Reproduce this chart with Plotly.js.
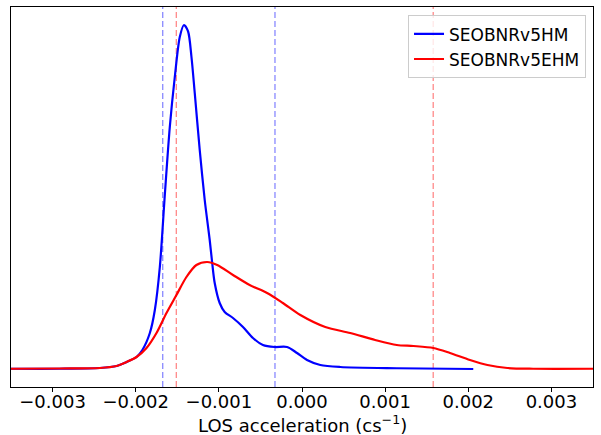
<!DOCTYPE html>
<html>
<head>
<meta charset="utf-8">
<script src="https://cdn.plot.ly/plotly-3.0.1.min.js"></script>
<style>html,body{margin:0;padding:0;background:#fff;}#chart{width:601px;height:435px;}</style>
</head>
<body>
<div id="chart"></div>
<script>
// LOS acceleration (c s^-1) and KDE density
const hmX = [-0.00351, -0.00292, -0.00243, -0.00223, -0.00211, -0.00199, -0.00192, -0.00183, -0.00177, -0.00171, -0.00165, -0.00159, -0.00153, -0.00147, -0.00142, -0.00137, -0.00133, -0.00129, -0.00123, -0.00117, -0.00111, -0.00108, -0.00105, -0.00099, -0.00093, -0.00083, -0.00071, -0.00059, -0.00047, -0.00033, -0.00018, -0.00006, 0.00006, 0.00022, 0.00046, 0.00114, 0.00206];
const hmY = [1, 1, 4, 12, 28, 48, 76, 144, 236, 408, 696, 968, 1168, 1328, 1376, 1350, 1250, 1104, 876, 676, 516, 424, 344, 264, 228, 204, 168, 124, 96, 88, 88, 64, 36, 16, 8, 3, 0];

const ehmX = [-0.00351, -0.00292, -0.00243, -0.00223, -0.00211, -0.00199, -0.00187, -0.00175, -0.00163, -0.00151, -0.00139, -0.00127, -0.00114, -0.00102, -0.00083, -0.00063, -0.00042, -0.00023, -0.00002, 0.00028, 0.00058, 0.00088, 0.00114, 0.00134, 0.00158, 0.00178, 0.00202, 0.00223, 0.00247, 0.00278, 0.00351];
const ehmY = [1, 2, 4, 12, 28, 48, 84, 144, 224, 296, 368, 416, 428, 416, 376, 336, 304, 264, 216, 168, 144, 116, 96, 92, 84, 64, 36, 16, 4, 1, 1];

// credible-interval bounds (dashed vertical lines)
const hmBounds = [-0.001675, -0.000325];
const ehmBounds = [-0.001512, 0.001578];

const seriesNames = ["SEOBNRv5HM", "SEOBNRv5EHM"];
const tickVals = [-0.003, -0.002, -0.001, 0, 0.001, 0.002, 0.003];
const tickText = ["\u22120.003", "\u22120.002", "\u22120.001", "0.000", "0.001", "0.002", "0.003"];
const xTitle = "LOS acceleration (cs<sup>\u22121</sup>)";

const FONT = "DejaVu Sans, sans-serif";

const traces = [
  {x: hmX, y: hmY, type: "scatter", mode: "lines", name: seriesNames[0],
   line: {color: "#0000ff", width: 2.2, shape: "spline", smoothing: 0.8}},
  {x: ehmX, y: ehmY, type: "scatter", mode: "lines", name: seriesNames[1],
   line: {color: "#ff0000", width: 2.2, shape: "spline", smoothing: 0.8}}
];

const shapes = [];
hmBounds.forEach(v => shapes.push({type: "line", xref: "x", yref: "paper", x0: v, x1: v, y0: 0, y1: 1,
  line: {color: "rgba(0,0,255,0.5)", width: 1.2, dash: "6px,3px"}, layer: "below"}));
ehmBounds.forEach(v => shapes.push({type: "line", xref: "x", yref: "paper", x0: v, x1: v, y0: 0, y1: 1,
  line: {color: "rgba(255,0,0,0.5)", width: 1.2, dash: "6px,3px"}, layer: "below"}));

const layout = {
  width: 601, height: 435,
  margin: {l: 11, r: 8, t: 7, b: 48},
  paper_bgcolor: "#fff", plot_bgcolor: "#fff",
  font: {family: FONT, color: "#000", size: 18},
  showlegend: true,
  legend: {x: 0.988, y: 0.978, xanchor: "right", yanchor: "top",
    bgcolor: "rgba(255,255,255,0.8)", bordercolor: "#cccccc", borderwidth: 1,
    tracegroupgap: 0, itemwidth: 30,
    font: {family: FONT, size: 17, color: "#000"}},
  xaxis: {range: [-0.0035, 0.0035], tickvals: tickVals, ticktext: tickText,
    showgrid: false, zeroline: false, showline: true, mirror: true, linecolor: "#000", linewidth: 1,
    ticks: "outside", ticklen: 4, tickcolor: "#000", ticklabelstandoff: -6,
    tickfont: {family: FONT, size: 18}},
  yaxis: {range: [-72, 1448], showgrid: false, zeroline: false, showline: true, mirror: true,
    linecolor: "#000", linewidth: 1, ticks: "", showticklabels: false},
  annotations: [{text: xTitle, xref: "paper", yref: "paper", x: 0.5, y: 0,
    xanchor: "center", yanchor: "middle", yshift: -37, showarrow: false,
    font: {family: FONT, size: 18, color: "#000"}}],
  shapes: shapes
};

Plotly.newPlot("chart", traces, layout, {displayModeBar: false, staticPlot: true});
</script>
</body>
</html>
